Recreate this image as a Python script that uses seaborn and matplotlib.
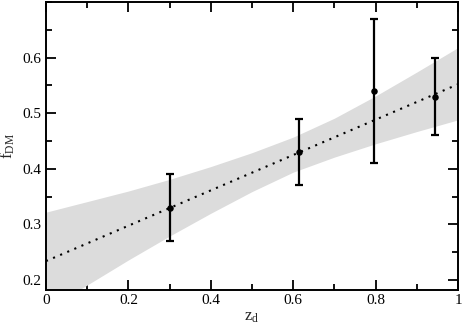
import numpy as np
import matplotlib
matplotlib.use("Agg")
import matplotlib.pyplot as plt
from matplotlib.ticker import MultipleLocator
import seaborn as sns

# measured points with symmetric errors
z_d = [0.30, 0.615, 0.795, 0.945]
f_dm = [0.330, 0.430, 0.540, 0.530]
f_err = [0.060, 0.060, 0.130, 0.070]

# best-fit line (straight, two end points)
fit_x = [0.0, 1.0]
fit_y = [0.234, 0.552]

# confidence band edges read at steps of 0.1
band_x = [0.0, 0.1, 0.2, 0.3, 0.4, 0.5, 0.6, 0.7, 0.8, 0.9, 1.0]
band_hi = [0.322, 0.341, 0.360, 0.381, 0.404, 0.429, 0.457, 0.491, 0.531, 0.574, 0.618]
band_lo = [0.146, 0.191, 0.236, 0.279, 0.320, 0.359, 0.394, 0.421, 0.445, 0.467, 0.488]

x_ticks = [0.0, 0.2, 0.4, 0.6, 0.8, 1.0]
x_labels = ["0", "0.2", "0.4", "0.6", "0.8", "1"]
y_ticks = [0.2, 0.3, 0.4, 0.5, 0.6]
y_labels = ["0.2", "0.3", "0.4", "0.5", "0.6"]

sns.set_theme(style="ticks")
plt.rcParams["font.family"] = ["Liberation Serif", "DejaVu Serif"]
plt.rcParams["mathtext.fontset"] = "custom"
plt.rcParams["mathtext.rm"] = "Liberation Serif"
plt.rcParams["mathtext.it"] = "Liberation Serif:italic"

fig = plt.figure(figsize=(4.63, 3.25), dpi=100)
ax = fig.add_axes([46 / 463, 35 / 325, 412 / 463, 288 / 325])

ax.fill_between(band_x, band_lo, band_hi, color="#dcdcdc", linewidth=0, zorder=1)
sns.lineplot(x=fit_x, y=fit_y, ax=ax, color="black", linewidth=1.5,
             linestyle=(0, (1, 2.7)), zorder=2)
ax.errorbar(z_d, f_dm, yerr=f_err, fmt="none", ecolor="black",
            elinewidth=1.6, capsize=3, capthick=1.6, zorder=3)
sns.scatterplot(x=z_d, y=f_dm, ax=ax, color="black", s=22,
                edgecolor="black", linewidth=0, zorder=4)

ax.set_xlim(0, 1)
ax.set_ylim(0.182, 0.70)
ax.set_xticks(x_ticks)
ax.set_xticklabels(x_labels)
ax.xaxis.set_minor_locator(MultipleLocator(0.1))
ax.set_yticks(y_ticks)
ax.set_yticklabels(y_labels)
ax.yaxis.set_minor_locator(MultipleLocator(0.05))

ax.tick_params(which="both", direction="in", top=True, right=True,
               labelsize=11, width=1.3, color="black", labelcolor="black")
ax.tick_params(which="major", length=7, pad=3)
ax.tick_params(which="minor", length=4)
for s in ax.spines.values():
    s.set_linewidth(1.4)
    s.set_color("black")

ax.set_xlabel(r"z$_\mathrm{d}$", fontsize=12, labelpad=1)
ax.set_ylabel(r"f$_\mathrm{DM}$", fontsize=12, labelpad=4)

fig.savefig("out.png", dpi=100)
